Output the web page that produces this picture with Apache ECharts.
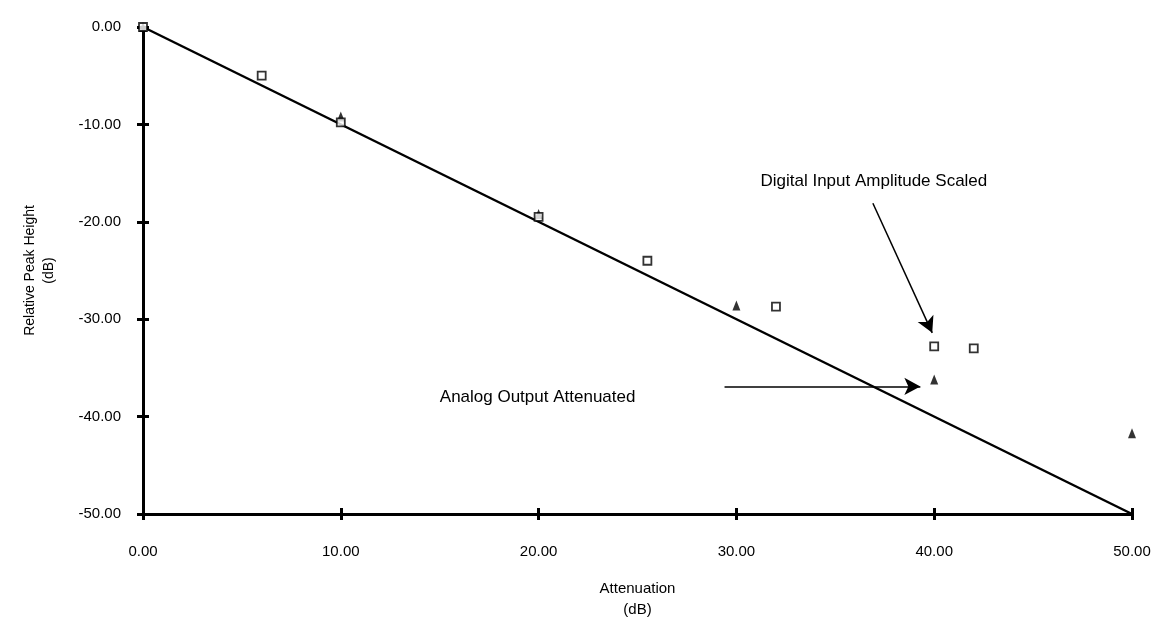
<!DOCTYPE html>
<html>
<head>
<meta charset="utf-8">
<script src="https://cdn.jsdelivr.net/npm/echarts@6/dist/echarts.min.js"></script>
<style>
  html, body { margin: 0; padding: 0; background: #fff; }
  #chart { width: 1159px; height: 622px; }
</style>
</head>
<body>
<div id="chart"></div>
<script>
// reference line: relative peak height equals minus attenuation
const idealLine = [[0, 0], [50, -50]];

// open squares
const digitalScaled = [
  [0, 0], [6, -5.0], [10, -9.8], [20, -19.5], [25.5, -24.0],
  [32, -28.7], [40, -32.8], [42, -33.0]
];

// filled triangles
const analogAttenuated = [
  [0, 0], [10, -9.2], [20, -19.2], [30, -28.6], [40, -36.2], [50, -41.7]
];

// annotation arrows, in data units
const digitalArrow = [[36.9, -18.1], [39.9, -31.4]];
const analogArrow = [[29.4, -36.9], [39.3, -36.9]];
const digitalLabelAt = [36.95, -15.8];
const analogLabelAt = [19.95, -38.0];

const font = "'Liberation Sans', Arial, sans-serif";
const black = "#000";

const tickLabel = {
  fontFamily: font, fontSize: 15, color: black,
  formatter: (v) => v.toFixed(2)
};

// second copy of each axis only draws the inner half of the ticks
const innerTicks = {
  type: "value",
  axisLine: { show: false, onZero: false },
  axisTick: { inside: true, length: 6, lineStyle: { color: black, width: 3 } },
  axisLabel: { show: false },
  splitLine: { show: false }
};

const chart = echarts.init(document.getElementById("chart"));

chart.setOption({
  animation: false,
  backgroundColor: "#fff",
  grid: { left: 143, right: 27, top: 27, bottom: 108, outerBoundsMode: "none", containLabel: false },
  xAxis: [
    {
      type: "value",
      position: "bottom",
      min: 0, max: 50, interval: 10,
      name: "Attenuation\n(dB)",
      nameLocation: "middle",
      nameGap: 64,
      nameTextStyle: { fontFamily: font, fontSize: 15, color: black, lineHeight: 21 },
      axisLine: { onZero: false, lineStyle: { color: black, width: 3 } },
      axisTick: { length: 6, lineStyle: { color: black, width: 3 } },
      axisLabel: Object.assign({ margin: 30 }, tickLabel),
      splitLine: { show: false }
    },
    Object.assign({ position: "bottom", min: 0, max: 50, interval: 10 }, innerTicks)
  ],
  yAxis: [
    {
      type: "value",
      position: "left",
      min: -50, max: 0, interval: 10,
      name: "Relative Peak Height\n(dB)",
      nameLocation: "middle",
      nameGap: 84,
      nameTextStyle: { fontFamily: font, fontSize: 14, color: black, lineHeight: 19 },
      axisLine: { onZero: false, lineStyle: { color: black, width: 3 } },
      axisTick: { length: 6, lineStyle: { color: black, width: 3 } },
      axisLabel: Object.assign({ margin: 22 }, tickLabel),
      splitLine: { show: false }
    },
    Object.assign({ position: "left", min: -50, max: 0, interval: 10 }, innerTicks)
  ],
  series: [
    {
      type: "line",
      data: idealLine,
      symbol: "none",
      lineStyle: { color: black, width: 2.5 },
      z: 2,
      markLine: {
        silent: true,
        symbol: ["none", "arrow"],
        symbolSize: [13, 16],
        lineStyle: { color: black, width: 1.5, type: "solid" },
        label: { show: false },
        data: [
          [{ coord: digitalArrow[0] }, { coord: digitalArrow[1] }],
          [{ coord: analogArrow[0] }, { coord: analogArrow[1] }]
        ]
      },
      markPoint: {
        silent: true,
        symbol: "circle",
        symbolSize: 0,
        label: {
          show: true,
          position: "inside",
          fontFamily: font,
          fontSize: 17,
          color: black,
          formatter: (p) => p.name
        },
        data: [
          { name: "Digital Input Amplitude Scaled", coord: digitalLabelAt },
          { name: "Analog Output Attenuated", coord: analogLabelAt }
        ]
      }
    },
    {
      type: "scatter",
      data: digitalScaled,
      symbol: "rect",
      symbolSize: 8,
      itemStyle: { color: "#fff", borderColor: black, borderWidth: 1.8 },
      z: 4
    },
    {
      type: "scatter",
      data: analogAttenuated,
      symbol: "triangle",
      symbolSize: [8, 10],
      itemStyle: { color: black },
      z: 3
    }
  ]
});
</script>
</body>
</html>
